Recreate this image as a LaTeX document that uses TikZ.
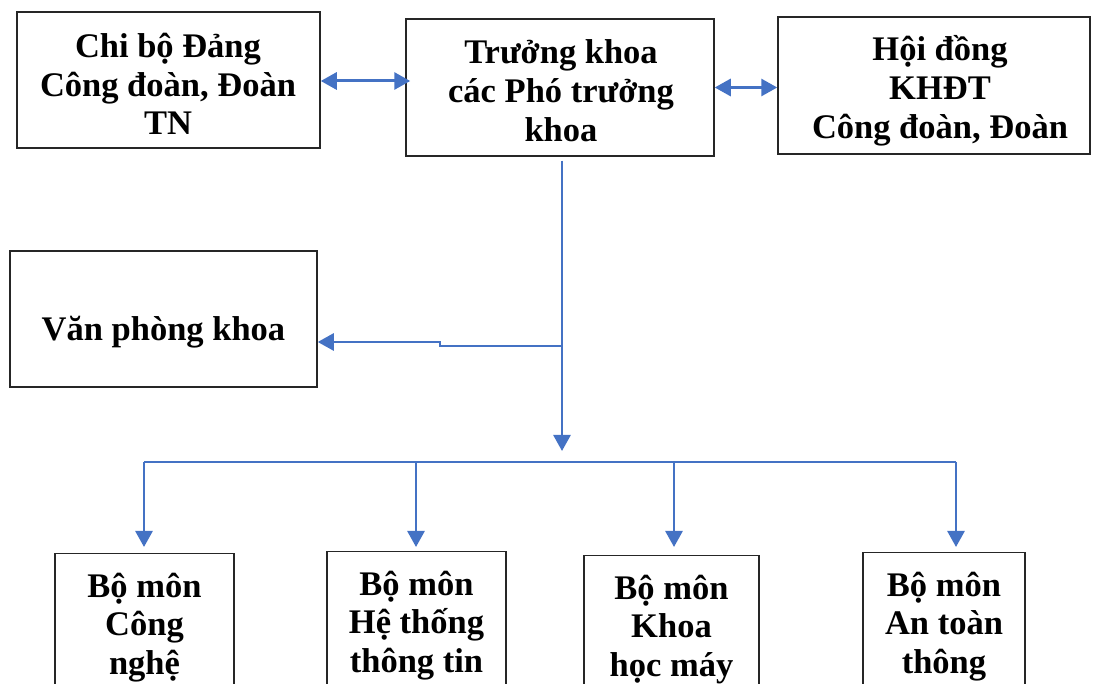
\documentclass[tikz,border=0pt]{standalone}
\usepackage{fontspec}
\setmainfont{Liberation Serif}
\usetikzlibrary{arrows.meta}
\definecolor{linkblue}{HTML}{4472C4}
\begin{document}
\begin{tikzpicture}[x=1pt,y=-1pt,
 box/.style={draw=black!85,line width=1.5pt,rectangle,inner sep=0pt},
 txt/.style={align=center,font=\fontsize{34.5}{38.8}\selectfont\bfseries,inner sep=0pt},
 dept/.style={box,align=center,font=\fontsize{34.5}{38.8}\selectfont\bfseries,anchor=north},
 conn/.style={draw=linkblue,line width=2.7pt},
 busline/.style={draw=linkblue,line width=1.8pt},
 tip/.style={-{Triangle[width=17pt,length=16pt]}},
 dtip/.style={{Triangle[width=17pt,length=16pt]}-{Triangle[width=17pt,length=16pt]}}
]
\useasboundingbox (0,0) rectangle (1096,684);
\clip (0,0) rectangle (1096,684);
% top row
\node[box,minimum width=303pt,minimum height=136pt] (chibo) at (168.5,80) {};
\node[txt] (chiboT) at (168,84) {Chi bộ Đảng\\Công đoàn, Đoàn\\TN};
\node[box,minimum width=308pt,minimum height=137pt] (truong) at (560,87.5) {};
\node[txt] (truongT) at (561,91) {Trưởng khoa\\các Phó trưởng\\khoa};
\node[box,minimum width=312pt,minimum height=137pt] (hoidong) at (934,85.5) {};
\node[txt] (hoidongT) at (940,91) {Hội đồng\\KHĐT\\Công đoàn, Đoàn};
% office
\node[box,minimum width=307pt,minimum height=136pt] (vp) at (163.5,319) {};
\node[txt] (vpT) at (163.5,332) {Văn phòng khoa};
% departments
\node[dept,minimum width=179pt,inner ysep=19pt] (bm1) at (144.5,553) {Bộ môn\\Công\\nghệ};
\node[dept,minimum width=179pt,inner ysep=19pt] (bm2) at (416.5,551) {Bộ môn\\Hệ thống\\thông tin};
\node[dept,minimum width=175pt,inner ysep=19pt] (bm3) at (671.5,555) {Bộ môn\\Khoa\\học máy};
\node[dept,minimum width=162pt,inner ysep=19pt] (bm4) at (944,552) {Bộ môn\\An toàn\\thông};
% double arrows
\draw[conn,line width=3pt,dtip,shorten >=-5pt] ([yshift=-1pt]chibo.east) -- ([yshift=-1pt]chibo.east -| truong.west);
\draw[conn,line width=3pt,dtip] (truong.east) -- (truong.east -| hoidong.west);
% main vertical
\coordinate (vtop) at ([xshift=2pt,yshift=-4pt]truong.south);
\coordinate (vend) at (562,451);
\draw[conn,tip] (vtop) -- (vend);
% to office
\coordinate (vbr) at (562,346);
\coordinate (vjog) at (440,342);
\draw[conn,tip] (vbr) -- (vbr -| vjog) -- (vjog) -- (vjog -| vp.east);
% bus
\coordinate (d1) at (144,462);
\coordinate (d2) at (416,462);
\coordinate (d3) at (674,462);
\coordinate (d4) at (956,462);
\draw[busline] (d1) -- (d4);
\draw[conn,tip,shorten >=6pt] (d1) -- (d1 |- bm1.north);
\draw[conn,tip,shorten >=4pt] (d2) -- (d2 |- bm2.north);
\draw[conn,tip,shorten >=8pt] (d3) -- (d3 |- bm3.north);
\draw[conn,tip,shorten >=5pt] (d4) -- (d4 |- bm4.north);
\end{tikzpicture}
\end{document}
